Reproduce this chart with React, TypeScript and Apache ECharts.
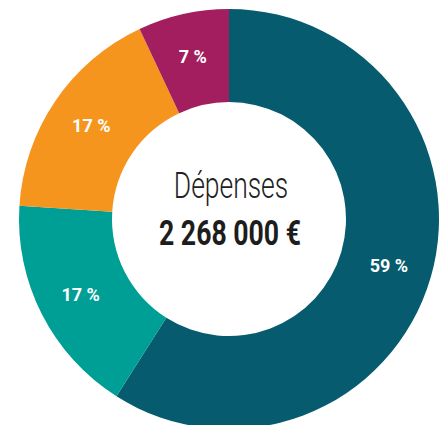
import React, { useEffect, useRef } from "react";
import * as echarts from "echarts";

const categories = ["Poste A", "Poste B", "Poste C", "Poste D"];
const values = [59, 17, 17, 7];
const colors = ["#065c6e", "#009f96", "#f6951e", "#a21e5e"];
const centerTitle = "Dépenses";
const centerValue = "2 268 000 €";

const FONT = "Roboto, 'Liberation Sans', sans-serif";

export default function App() {
  const ref = useRef<HTMLDivElement>(null);
  useEffect(() => {
    if (!ref.current) return;
    const chart = echarts.init(ref.current, undefined, { renderer: "svg" });
    chart.setOption({
      animation: false,
      backgroundColor: "#ffffff",
      graphic: [
        {
          type: "text",
          x: 231,
          y: 186,
          scaleX: 0.735,
          style: {
            text: centerTitle,
            fontFamily: FONT,
            fontSize: 36,
            fontWeight: 300,
            fill: "#222222",
            textAlign: "center",
            textVerticalAlign: "middle",
          },
        },
        {
          type: "text",
          x: 230,
          y: 233,
          scaleX: 0.74,
          style: {
            text: centerValue,
            fontFamily: FONT,
            fontSize: 36,
            fontWeight: "bold",
            fill: "#1d1d1d",
            textAlign: "center",
            textVerticalAlign: "middle",
          },
        },
      ],
      series: [
        {
          type: "pie",
          center: [229, 219],
          radius: [117, 210],
          startAngle: 90,
          clockwise: true,
          avoidLabelOverlap: false,
          label: {
            show: true,
            position: "inside",
            formatter: (p: any) => `${p.value} %`,
            color: "#ffffff",
            fontFamily: FONT,
            fontSize: 18,
            fontWeight: "bold",
          },
          labelLine: { show: false },
          itemStyle: { borderWidth: 0 },
          emphasis: { disabled: true },
          data: categories.map((name, i) => ({
            name,
            value: values[i],
            itemStyle: { color: colors[i] },
          })),
        },
      ],
    });
    return () => chart.dispose();
  }, []);
  return (
    <div
      ref={ref}
      style={{ position: "fixed", left: 0, top: 0, width: 446, height: 425 }}
    />
  );
}
